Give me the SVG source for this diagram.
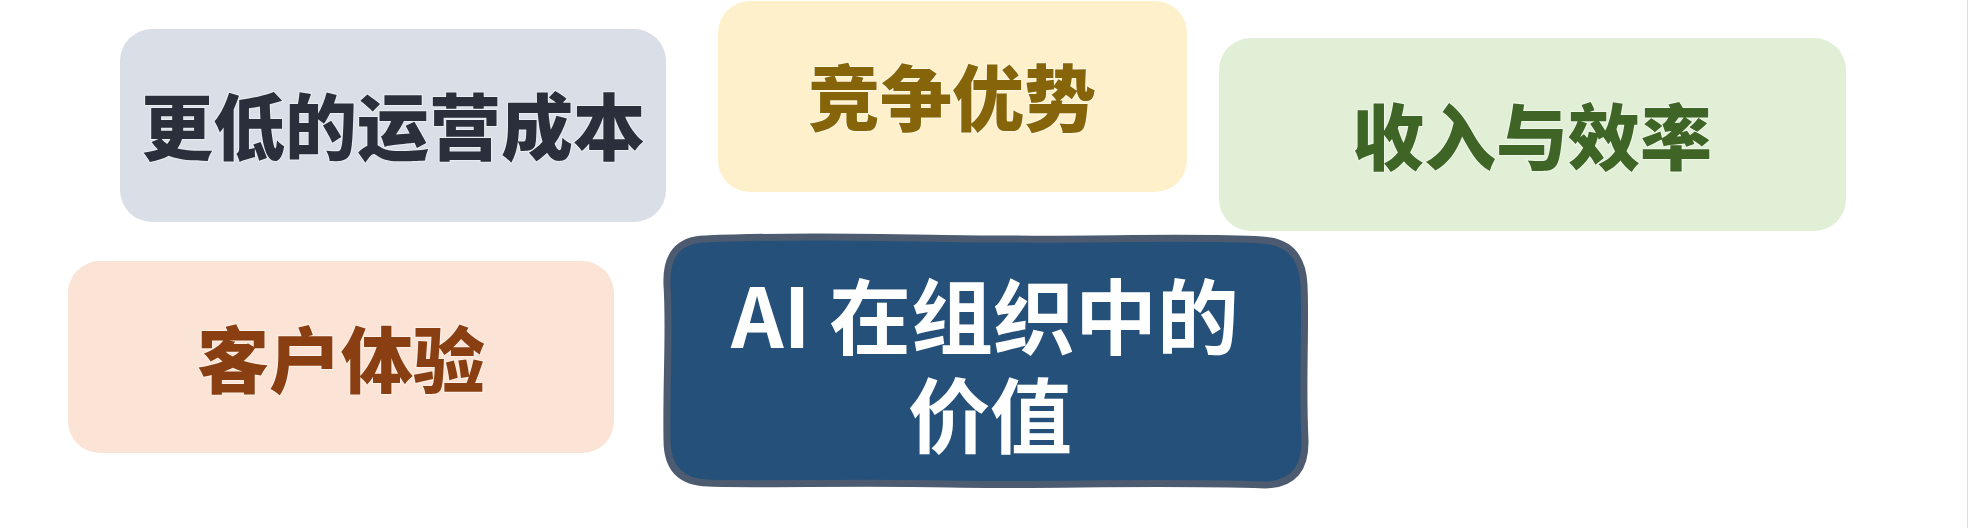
<svg xmlns="http://www.w3.org/2000/svg" width="1969" height="528" viewBox="0 0 1969 528">
  <style>
    .lbl { font-family: "Noto Sans CJK SC", "Noto Sans", "Liberation Sans", sans-serif; font-weight: 900; text-anchor: middle; font-size: 72px; paint-order: stroke; stroke: #ffffff; stroke-opacity: 0.45; stroke-width: 2px; }
    .box { stroke: none; }
    .center-txt { font-family: "Noto Sans CJK SC", "Noto Sans", "Liberation Sans", sans-serif; font-weight: 700; text-anchor: middle; font-size: 82px; fill: #ffffff; }
  </style>
  <rect x="0" y="0" width="1969" height="528" fill="#ffffff"/>
  <line x1="1967.5" y1="0" x2="1967.5" y2="528" stroke="#dcdcdc" stroke-width="1"/>

  <g id="connectors"></g>

  <g id="node-cost">
    <rect class="box" x="120" y="29" width="546" height="193" rx="32" ry="32" fill="#d9dee7"/>
    <text class="lbl" x="393" y="154" fill="#2a2f3b">更低的运营成本</text>
  </g>

  <g id="node-competition">
    <rect class="box" x="718" y="1" width="469" height="191" rx="32" ry="32" fill="#fdf0cb"/>
    <text class="lbl" x="952" y="125" fill="#86650a">竞争优势</text>
  </g>

  <g id="node-revenue">
    <rect class="box" x="1219" y="38" width="627" height="193" rx="32" ry="32" fill="#e1efd6"/>
    <text class="lbl" x="1532" y="164" fill="#3e6426">收入与效率</text>
  </g>

  <g id="node-customer">
    <rect class="box" x="68" y="261" width="546" height="192" rx="32" ry="32" fill="#fbe4d6"/>
    <text class="lbl" x="341" y="387" fill="#8a3f12">客户体验</text>
  </g>

  <g id="node-center">
    <path d="M 705 239 C 800 235, 900 238, 1000 239 C 1100 240, 1200 236, 1262 240 Q 1302 242, 1304 285 C 1306 330, 1302 380, 1305 440 Q 1306 484, 1265 485 C 1150 481, 1050 486, 950 484 C 850 482, 760 485, 708 483 Q 667 482, 667 440 C 666 380, 670 330, 667 285 Q 665 240, 705 239 Z" fill="#245079" stroke="#4d5b70" stroke-width="7" stroke-linejoin="round"/>
    <text class="center-txt"><tspan x="985" y="348">AI 在组织中的</tspan><tspan x="990" y="447">价值</tspan></text>
  </g>
</svg>
